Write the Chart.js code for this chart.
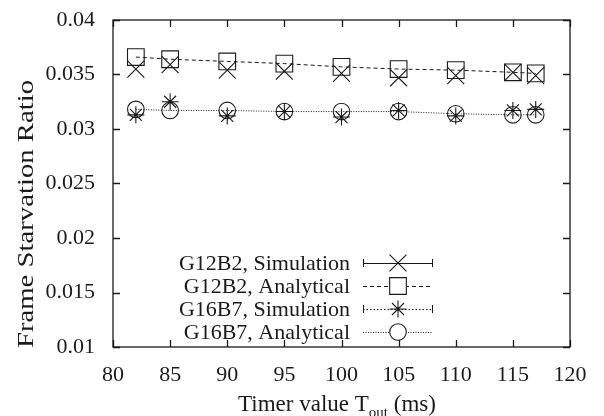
<!DOCTYPE html>
<html>
<head>
<meta charset="utf-8">
<script src="https://cdn.jsdelivr.net/npm/chart.js@4/dist/chart.umd.min.js"></script>
<style>
  html, body { margin: 0; padding: 0; background: #fff; }
  #wrap { width: 604px; height: 416px; }
</style>
</head>
<body>
<div id="wrap"><canvas id="c" width="604" height="416"></canvas></div>
<script>
// ---- data ----
const timerValues = [82, 85, 90, 95, 100, 105, 110, 115, 117];
const g12b2Simulation = [0.0355, 0.0359, 0.0354, 0.0353, 0.0351, 0.0347, 0.0349, 0.0352, 0.0349];
const g12b2Analytical = [0.0366, 0.0364, 0.0362, 0.0360, 0.0357, 0.0355, 0.0354, 0.0352, 0.0351];
const g16b7Simulation = [0.0313, 0.0325, 0.0312, 0.0316, 0.0311, 0.0317, 0.0312, 0.0317, 0.0318];
const g16b7Analytical = [0.0318, 0.0317, 0.0317, 0.0316, 0.0316, 0.0316, 0.0314, 0.0313, 0.0313];
const seriesNames = ['G12B2, Simulation', 'G12B2, Analytical', 'G16B7, Simulation', 'G16B7, Analytical'];
const xTickLabels = ['80', '85', '90', '95', '100', '105', '110', '115', '120'];
const yTickLabels = ['0.01', '0.015', '0.02', '0.025', '0.03', '0.035', '0.04'];
const yAxisTitle = 'Frame Starvation Ratio';
const xAxisTitle = ['Timer value T', 'out', ' (ms)'];

const FONT = "'Liberation Serif', 'DejaVu Serif', serif";
const INK = '#1a1a1a';
const CLEAR = 'rgba(0,0,0,0)';

function pts(ys) { return timerValues.map((x, i) => ({ x: x, y: ys[i] })); }

const styles = [
  { pointStyle: 'crossRot', radius: 12, dash: [], showLine: false, errorBar: true },
  { pointStyle: 'rect', radius: 11.8, dash: [4, 3], showLine: true, errorBar: false },
  { pointStyle: 'star', radius: 8.5, dash: [1.5, 2], showLine: false, errorBar: true },
  { pointStyle: 'circle', radius: 8.3, dash: [1, 1.5], showLine: true, errorBar: false }
];
const seriesData = [g12b2Simulation, g12b2Analytical, g16b7Simulation, g16b7Analytical];

const datasets = seriesData.map((d, i) => ({
  label: seriesNames[i],
  data: pts(d),
  showLine: styles[i].showLine,
  borderColor: INK,
  backgroundColor: CLEAR,
  borderWidth: 1,
  borderDash: styles[i].dash,
  pointStyle: styles[i].pointStyle,
  pointRadius: styles[i].radius,
  pointBorderWidth: 1.1,
  pointBorderColor: INK,
  pointBackgroundColor: CLEAR,
  tension: 0
}));

const framePlugin = {
  id: 'frame',
  afterDraw(chart) {
    const ctx = chart.ctx;
    const a = chart.chartArea;
    const xs = chart.scales.x, ys = chart.scales.y;
    ctx.save();
    ctx.strokeStyle = INK;
    ctx.lineWidth = 1.3;
    ctx.setLineDash([]);
    ctx.strokeRect(a.left, a.top, a.right - a.left, a.bottom - a.top);
    const tl = 7;
    ctx.beginPath();
    xs.ticks.forEach(t => {
      const px = Math.round(xs.getPixelForValue(t.value)) + 0.5;
      ctx.moveTo(px, a.bottom); ctx.lineTo(px, a.bottom - tl);
      ctx.moveTo(px, a.top); ctx.lineTo(px, a.top + tl);
    });
    ys.ticks.forEach(t => {
      const py = Math.round(ys.getPixelForValue(t.value)) + 0.5;
      ctx.moveTo(a.left, py); ctx.lineTo(a.left + tl, py);
      ctx.moveTo(a.right, py); ctx.lineTo(a.right - tl, py);
    });
    ctx.stroke();

    // x axis title with subscript
    ctx.fillStyle = INK;
    ctx.textBaseline = 'alphabetic';
    ctx.font = '23px ' + FONT;
    const w1 = ctx.measureText(xAxisTitle[0]).width;
    ctx.font = '15px ' + FONT;
    const w2 = ctx.measureText(xAxisTitle[1]).width;
    ctx.font = '23px ' + FONT;
    const w3 = ctx.measureText(xAxisTitle[2]).width;
    const x0 = 337 - (w1 + w2 + w3) / 2;
    const base = 411;
    ctx.textAlign = 'left';
    ctx.fillText(xAxisTitle[0], x0, base);
    ctx.font = '15px ' + FONT;
    ctx.fillText(xAxisTitle[1], x0 + w1, base + 6);
    ctx.font = '23px ' + FONT;
    ctx.fillText(xAxisTitle[2], x0 + w1 + w2, base);

    // y axis title (stretched along its length as in the reference)
    ctx.save();
    ctx.font = '23px ' + FONT;
    const yw = ctx.measureText(yAxisTitle).width;
    ctx.translate(33, 214);
    ctx.rotate(-Math.PI / 2);
    ctx.scale(268 / yw, 1);
    ctx.textAlign = 'center';
    ctx.textBaseline = 'alphabetic';
    ctx.fillText(yAxisTitle, 0, 0);
    ctx.restore();

    // legend
    const rowsY = [263, 286, 309, 332];
    const textRight = 350, l0 = 363, l1 = 433, sx = 398;
    chart.data.datasets.forEach((ds, i) => {
      const y = rowsY[i];
      ctx.fillStyle = INK;
      ctx.font = '22px ' + FONT;
      ctx.textAlign = 'right';
      ctx.textBaseline = 'middle';
      ctx.fillText(ds.label, textRight, y + 1);
      ctx.strokeStyle = INK;
      ctx.lineWidth = 1;
      ctx.setLineDash(styles[i].dash);
      ctx.beginPath();
      ctx.moveTo(l0, y + 0.5); ctx.lineTo(l1, y + 0.5);
      ctx.stroke();
      ctx.setLineDash([]);
      if (styles[i].errorBar) {
        ctx.beginPath();
        ctx.moveTo(l0 + 0.5, y - 4); ctx.lineTo(l0 + 0.5, y + 4);
        ctx.moveTo(l1 - 0.5, y - 4); ctx.lineTo(l1 - 0.5, y + 4);
        ctx.stroke();
      }
      ctx.lineWidth = 1.1;
      ctx.fillStyle = '#ffffff';
      ctx.strokeStyle = INK;
      Chart.helpers.drawPoint(ctx, {
        pointStyle: styles[i].pointStyle,
        radius: styles[i].radius,
        rotation: 0,
        borderWidth: 1.1
      }, sx, y);
    });
    ctx.restore();
  }
};

new Chart(document.getElementById('c'), {
  type: 'scatter',
  data: { datasets: datasets },
  plugins: [framePlugin],
  options: {
    responsive: false,
    animation: false,
    devicePixelRatio: 1,
    layout: { padding: { top: 20, right: 34, left: 0, bottom: 0 } },
    plugins: { legend: { display: false }, tooltip: { enabled: false } },
    scales: {
      x: {
        type: 'linear',
        min: 80, max: 120,
        grid: { display: false, drawTicks: false },
        border: { display: false },
        ticks: {
          stepSize: 5,
          autoSkip: false,
          maxRotation: 0,
          padding: 15,
          color: INK,
          font: { family: FONT, size: 22 },
          callback: (v) => {
            const s = xTickLabels.find(l => Math.abs(Number(l) - v) < 1e-9);
            return s === undefined ? '' : s;
          }
        },
        afterFit: (s) => { s.height = 69; s.paddingLeft = 0; s.paddingRight = 0; }
      },
      y: {
        type: 'linear',
        min: 0.01, max: 0.04,
        grid: { display: false, drawTicks: false },
        border: { display: false },
        ticks: {
          stepSize: 0.005,
          autoSkip: false,
          padding: 18,
          color: INK,
          font: { family: FONT, size: 22 },
          callback: (v) => {
            const s = yTickLabels.find(l => Math.abs(Number(l) - v) < 1e-9);
            return s === undefined ? '' : s;
          }
        },
        afterFit: (s) => { s.width = 113; s.paddingTop = 0; s.paddingBottom = 0; }
      }
    }
  }
});
</script>
</body>
</html>
